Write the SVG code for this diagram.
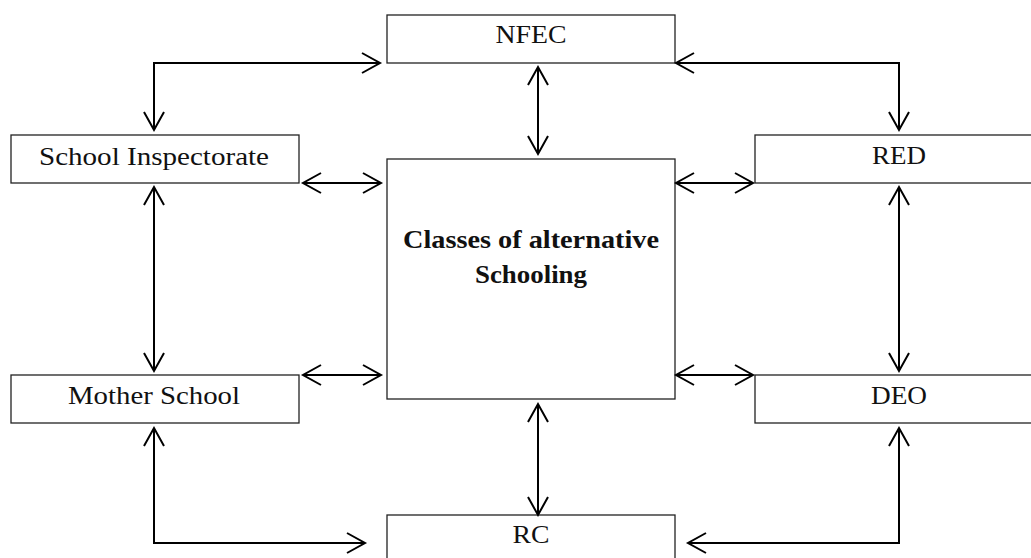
<svg xmlns="http://www.w3.org/2000/svg" width="1031" height="558" viewBox="0 0 1031 558">
<defs>
<style>
.box{fill:#fff;stroke:#222;stroke-width:1.3}
.lbl{font-family:"Liberation Serif","Times New Roman",serif;font-size:26px;fill:#111;text-anchor:middle}
.bold{font-weight:bold}
.conn{fill:none;stroke:#000;stroke-width:2;marker-start:url(#arr);marker-end:url(#arr)}
</style>
<marker id="arr" markerUnits="userSpaceOnUse" markerWidth="24" markerHeight="24" viewBox="-20 -12 22 24" refX="0" refY="0" orient="auto-start-reverse">
<path d="M-18,-10 L0,0 L-18,10" fill="none" stroke="#000" stroke-width="2"/>
</marker>
</defs>
<rect width="1031" height="558" fill="#fff"/>
<g id="nfec"><rect class="box" x="387" y="15" width="288" height="48"/><text class="lbl" x="531" y="43" textLength="71" lengthAdjust="spacingAndGlyphs">NFEC</text></g>
<g id="school-inspectorate"><rect class="box" x="11" y="135" width="288" height="48"/><text class="lbl" x="154" y="165" textLength="230" lengthAdjust="spacingAndGlyphs">School Inspectorate</text></g>
<g id="red"><rect class="box" x="755" y="135" width="288" height="48"/><text class="lbl" x="899" y="164" textLength="54" lengthAdjust="spacingAndGlyphs">RED</text></g>
<g id="center"><rect class="box" x="387" y="159" width="288" height="240"/><text class="lbl bold" x="531" y="248" textLength="256" lengthAdjust="spacingAndGlyphs">Classes of alternative</text><text class="lbl bold" x="531" y="283" textLength="112" lengthAdjust="spacingAndGlyphs">Schooling</text></g>
<g id="mother-school"><rect class="box" x="11" y="375" width="288" height="48"/><text class="lbl" x="154" y="404" textLength="172" lengthAdjust="spacingAndGlyphs">Mother School</text></g>
<g id="deo"><rect class="box" x="755" y="375" width="288" height="48"/><text class="lbl" x="899" y="404" textLength="56" lengthAdjust="spacingAndGlyphs">DEO</text></g>
<g id="rc"><rect class="box" x="387" y="515" width="288" height="48"/><text class="lbl" x="531" y="543" textLength="37" lengthAdjust="spacingAndGlyphs">RC</text></g>
<g id="connectors">
<path class="conn" d="M380,63 H154 V130"/>
<path class="conn" d="M538,67 V154"/>
<path class="conn" d="M676,63 H899 V130"/>
<path class="conn" d="M303,183 H381"/>
<path class="conn" d="M676,183 H753"/>
<path class="conn" d="M154,187 V371"/>
<path class="conn" d="M899,187 V371"/>
<path class="conn" d="M303,375 H381"/>
<path class="conn" d="M676,375 H753"/>
<path class="conn" d="M154,428 V543 H365"/>
<path class="conn" d="M538,404 V515"/>
<path class="conn" d="M899,428 V543 H688"/>
</g>
</svg>
